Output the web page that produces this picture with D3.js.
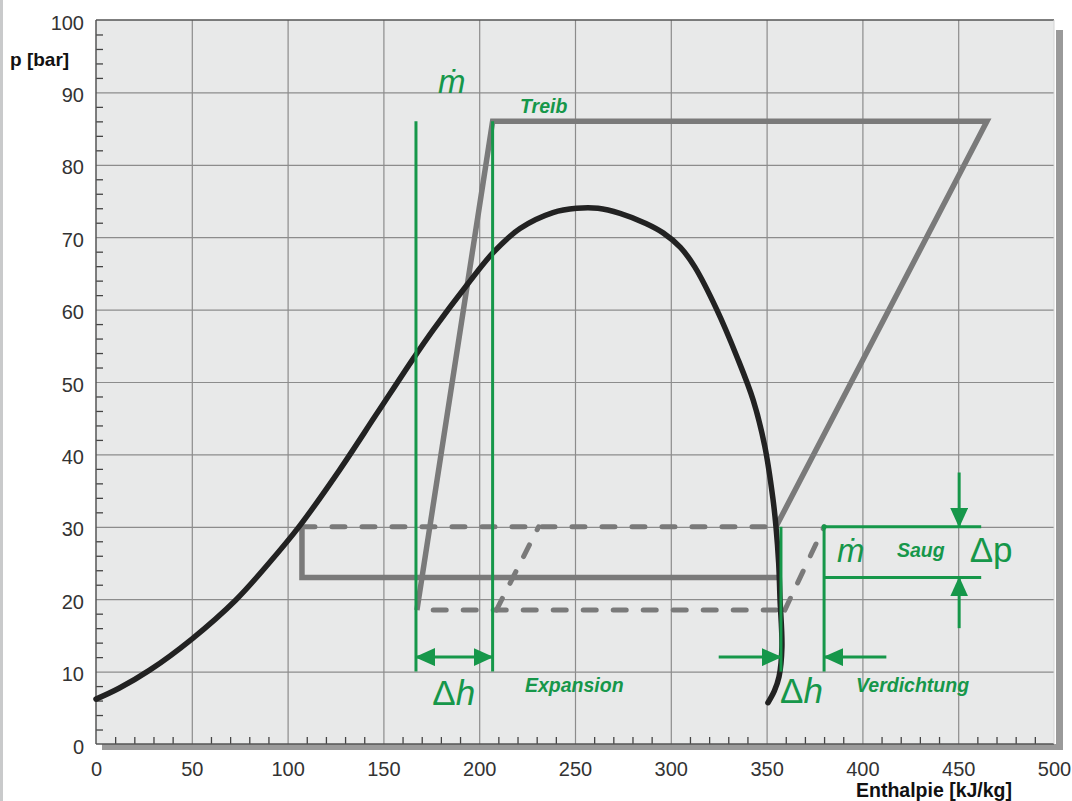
<!DOCTYPE html>
<html><head><meta charset="utf-8">
<script src="https://cdn.jsdelivr.net/npm/d3@7"></script>
<style>
html,body{margin:0;padding:0;background:#fff;}
svg{display:block;font-family:"Liberation Sans",Arial,sans-serif;}
</style></head>
<body>
<svg id="chart" width="1072" height="801"></svg>
<script>
// ---- data ----
const xTicks = [0,50,100,150,200,250,300,350,400,450,500];
const yTicks = [0,10,20,30,40,50,60,70,80,90,100];
const xMinor = d3.range(10,500,10).filter(v=>v%50!==0);
const yMinor = d3.range(2,100,2).filter(v=>v%10!==0);

// saturation curve (enthalpy kJ/kg, pressure bar)
const satH = [0,12,28,50,73,90,106.5,127,146.5,165.5,176,193.6,207.4,221.3,238.5,250.9,262,273.5,287,296,305,312.5,324,334.5,343,349,353.3,354.9,356.3,357,358,356.5,354,350.7];
const satP = [6.2,7.7,10.2,14.5,19.9,24.9,30.2,37.8,45.6,53.2,57.2,63.4,67.9,71.2,73.4,74,74,73.3,71.9,70.6,68.6,65.9,60,53.5,47.5,41.2,33.9,30,25,20,13.4,9.3,7.3,5.7];

// gray cycle (solid, "Treib")
const treibH = [167.5,207,465,354.9];
const treibP = [18.5,86,86,30];
// solid rectangle (high side)
const rectH = [107.5,107.5,357];
const rectP = [30,23,23];
// dashed lines
const dashTopH = [107.5,354.9], dashTopP = [30,30];
const dashBotH = [176,359.5],   dashBotP = [18.5,18.5];
const dashDiagLH = [209,231],   dashDiagLP = [18.5,30];
const dashDiagRH = [359.5,380], dashDiagRP = [18.5,30];

// green annotation lines [h1,p1,h2,p2]
const greenLines = [
  [167,10,167,86],[207,10,207,86],
  [357.5,10,357.5,30],[380,10,380,30],
  [380,30,462,30],[380,23,462,23]
];
// arrows [fromH,fromP,toH,toP, double]
const greenArrows = [
  [167,12,207,12,true],
  [325,12,357.5,12,false],
  [412.5,12,380,12,false],
  [450.5,37.5,450.5,30,false],
  [450.5,16,450.5,23,false]
];
// labels
const bigLabels = [ // [h,p,delta,letter]
  [175.5,5.4,"Δ","h"],[357,5.7,"Δ","h"],[456,25.1,"Δ","p"]
];
const mdotLabels = [[178.5,89.9],[386.7,25.1]];
const smallLabels = [["Treib",221.3,87.2],["Expansion",223.9,7.2],["Saug",418,25.8],["Verdichtung",396.7,7.2]];

// ---- drawing ----
const svg = d3.select("#chart");
const x = d3.scaleLinear().domain([0,500]).range([96,1054]);
const y = d3.scaleLinear().domain([0,100]).range([744,20]);
const GREEN = "#16974a", GRAY = "#7a7a7a", DARK = "#222";

// left page strip
svg.append("rect").attr("x",0).attr("y",0).attr("width",3).attr("height",801).attr("fill","#c9cacb");

// shadow
svg.append("rect").attr("x",x(500)+2).attr("y",y(100)+10).attr("width",7).attr("height",y(0)-y(100)-4).attr("fill","#9a9a9a");
svg.append("rect").attr("x",x(0)+6).attr("y",y(0)).attr("width",x(500)-x(0)+3).attr("height",6).attr("fill","#9a9a9a");

// plot background
svg.append("rect").attr("x",x(0)).attr("y",y(100)).attr("width",x(500)-x(0)).attr("height",y(0)-y(100)).attr("fill","#e8e9e9");

// grid
const gx = svg.append("g").attr("transform",`translate(0,${y(0)})`)
  .call(d3.axisBottom(x).tickValues(xTicks.slice(1,-1)).tickSize(-(y(0)-y(100))).tickFormat(""));
gx.select(".domain").remove();
gx.selectAll("line").attr("stroke","#8c8c8c").attr("stroke-width",1.2);
const gy = svg.append("g").attr("transform",`translate(${x(0)},0)`)
  .call(d3.axisLeft(y).tickValues(yTicks.slice(1,-1)).tickSize(-(x(500)-x(0))).tickFormat(""));
gy.select(".domain").remove();
gy.selectAll("line").attr("stroke","#8c8c8c").attr("stroke-width",1.2);

// minor ticks
const mx = svg.append("g").attr("transform",`translate(0,${y(0)})`)
  .call(d3.axisBottom(x).tickValues(xMinor).tickSize(-7).tickFormat(""));
mx.select(".domain").remove();
mx.selectAll("line").attr("stroke","#444").attr("stroke-width",1.3);
const my = svg.append("g").attr("transform",`translate(${x(0)},0)`)
  .call(d3.axisLeft(y).tickValues(yMinor).tickSize(-7).tickFormat(""));
my.select(".domain").remove();
my.selectAll("line").attr("stroke","#444").attr("stroke-width",1.3);

// frame
svg.append("line").attr("x1",x(0)).attr("x2",x(500)).attr("y1",y(100)).attr("y2",y(100)).attr("stroke","#555").attr("stroke-width",1.5);
svg.append("line").attr("x1",x(0)).attr("x2",x(0)).attr("y1",y(100)).attr("y2",y(0)).attr("stroke","#555").attr("stroke-width",1.5);
svg.append("line").attr("x1",x(0)).attr("x2",x(500)).attr("y1",y(0)).attr("y2",y(0)).attr("stroke","#555").attr("stroke-width",1.5);
svg.append("line").attr("x1",x(500)).attr("x2",x(500)).attr("y1",y(100)).attr("y2",y(0)).attr("stroke","#d4d4d4").attr("stroke-width",1);

// tick labels
const ax = svg.append("g").attr("transform",`translate(0,${y(0)})`)
  .call(d3.axisBottom(x).tickValues(xTicks).tickSize(0).tickPadding(18));
ax.select(".domain").remove();
ax.selectAll("text").attr("font-size",20).attr("fill","#333").attr("font-family","Liberation Sans, Arial, sans-serif");
const ay = svg.append("g").attr("transform",`translate(${x(0)},0)`)
  .call(d3.axisLeft(y).tickValues(yTicks).tickSize(0).tickPadding(12));
ay.select(".domain").remove();
ay.selectAll("text").attr("font-size",20).attr("fill","#333").attr("dy","0.45em").attr("font-family","Liberation Sans, Arial, sans-serif");

// axis titles
svg.append("text").attr("x",10).attr("y",66).attr("font-size",19).attr("font-weight","bold").attr("fill","#111").text("p [bar]");
svg.append("text").attr("x",1012).attr("y",797).attr("text-anchor","end").attr("font-size",19.5).attr("font-weight","bold").attr("fill","#111").text("Enthalpie [kJ/kg]");

const line = d3.line().x(d=>x(d[0])).y(d=>y(d[1]));
const zipHP = (H,P)=>H.map((h,i)=>[h,P[i]]);

// gray cycle lines
const dashStyle = s => s.attr("fill","none").attr("stroke",GRAY).attr("stroke-width",5).attr("stroke-dasharray","13,17").attr("stroke-linecap","round");
[[dashTopH,dashTopP],[dashBotH,dashBotP],[dashDiagLH,dashDiagLP],[dashDiagRH,dashDiagRP]].forEach(([H,P])=>{
  svg.append("path").attr("d",line(zipHP(H,P))).call(dashStyle);
});
svg.append("path").attr("d",line(zipHP(rectH,rectP))).attr("fill","none").attr("stroke",GRAY).attr("stroke-width",5.5).attr("stroke-linejoin","miter");
svg.append("path").attr("d",line(zipHP(treibH,treibP))).attr("fill","none").attr("stroke",GRAY).attr("stroke-width",5.5).attr("stroke-linejoin","miter");

// saturation curve
const curveLine = d3.line().x(d=>x(d[0])).y(d=>y(d[1])).curve(d3.curveCatmullRom.alpha(0.5));
svg.append("path").attr("d",curveLine(zipHP(satH,satP)))
  .attr("fill","none").attr("stroke",DARK).attr("stroke-width",5.5).attr("stroke-linecap","round");

// green markers
const defs = svg.append("defs");
defs.append("marker").attr("id","ah").attr("viewBox","0 0 20 18").attr("refX",19).attr("refY",9)
  .attr("markerWidth",20).attr("markerHeight",18).attr("markerUnits","userSpaceOnUse").attr("orient","auto-start-reverse")
  .append("path").attr("d","M0,0L20,9L0,18Z").attr("fill",GREEN);

greenLines.forEach(d=>{
  svg.append("line").attr("x1",x(d[0])).attr("y1",y(d[1])).attr("x2",x(d[2])).attr("y2",y(d[3]))
    .attr("stroke",GREEN).attr("stroke-width",3);
});
greenArrows.forEach(d=>{
  const l = svg.append("line").attr("x1",x(d[0])).attr("y1",y(d[1])).attr("x2",x(d[2])).attr("y2",y(d[3]))
    .attr("stroke",GREEN).attr("stroke-width",3).attr("marker-end","url(#ah)");
  if(d[4]) l.attr("marker-start","url(#ah)");
});
svg.append("circle").attr("cx",x(380)).attr("cy",y(30)).attr("r",2.5).attr("fill",GREEN);

// labels
bigLabels.forEach(d=>{
  const t = svg.append("text").attr("x",x(d[0])).attr("y",y(d[1])).attr("font-size",35).attr("fill",GREEN);
  t.append("tspan").text(d[2]);
  t.append("tspan").attr("font-style", d[3]==="h"?"italic":"normal").text(d[3]);
});
mdotLabels.forEach(d=>{
  svg.append("text").attr("x",x(d[0])).attr("y",y(d[1])).attr("font-size",33).attr("font-style","italic").attr("fill",GREEN).text("ṁ");
});
smallLabels.forEach(d=>{
  svg.append("text").attr("x",x(d[1])).attr("y",y(d[2])).attr("font-size",19.5).attr("font-weight","bold").attr("font-style","italic").attr("fill",GREEN).text(d[0]);
});
</script>
</body></html>
